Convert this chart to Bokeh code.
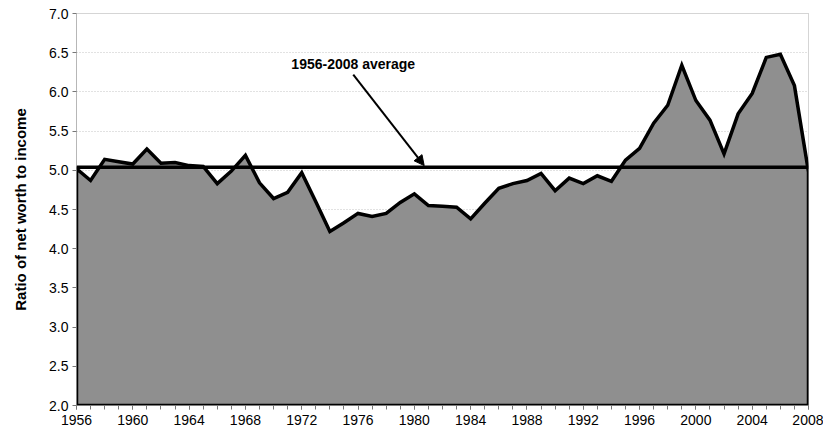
from bokeh.plotting import figure
from bokeh.models import FixedTicker, Arrow, NormalHead, Label, Range1d, CustomJSTickFormatter
from bokeh.embed import file_html
from bokeh.resources import INLINE

years = list(range(1956, 2009))
ratio = [5.02, 4.87, 5.14, 5.11, 5.08, 5.27, 5.09, 5.10, 5.06, 5.05,
         4.83, 4.99, 5.19, 4.84, 4.64, 4.72, 4.97, 4.60, 4.22, 4.33,
         4.45, 4.41, 4.45, 4.59, 4.70, 4.55, 4.54, 4.53, 4.38, 4.58,
         4.77, 4.83, 4.87, 4.96, 4.74, 4.90, 4.83, 4.93, 4.86, 5.13,
         5.28, 5.60, 5.83, 6.34, 5.89, 5.64, 5.21, 5.72, 5.98, 6.44,
         6.48, 6.08, 4.98]
average = 5.04
avg_label = "1956-2008 average"
y_label = "Ratio of net worth to income"
y_ticks = [2.0, 2.5, 3.0, 3.5, 4.0, 4.5, 5.0, 5.5, 6.0, 6.5, 7.0]
x_ticks = list(range(1956, 2009, 4))
y_min, y_max = 2.0, 7.0

FONT = "Liberation Sans"

p = figure(width=823, height=437, output_backend="svg", toolbar_location=None,
           x_range=Range1d(years[0], years[-1]), y_range=Range1d(y_min, y_max),
           min_border_left=76, min_border_right=15, min_border_top=13,
           min_border_bottom=32)
p.background_fill_color = "white"
p.border_fill_color = "white"
p.outline_line_color = "#aaaaaa"
p.outline_line_dash = "1 1"
p.outline_line_width = 1

# grid
p.xgrid.visible = False
p.ygrid.grid_line_color = "#c4c4c4"
p.ygrid.grid_line_dash = "1 2"
p.ygrid.grid_line_width = 1

# axes
p.yaxis.ticker = FixedTicker(ticks=y_ticks)
p.yaxis.formatter = CustomJSTickFormatter(code="return tick.toFixed(1);")
p.xaxis.ticker = FixedTicker(ticks=x_ticks, minor_ticks=years)
for ax in (p.xaxis, p.yaxis):
    ax.axis_line_color = "#999999"
    ax.axis_line_dash = "1 1"
    ax.major_tick_line_color = "#777777"
    ax.minor_tick_line_color = "#777777"
    ax.major_tick_in = 0
    ax.major_tick_out = 4
    ax.minor_tick_in = 0
    ax.minor_tick_out = 4
    ax.major_label_text_font = FONT
    ax.major_label_text_font_size = "14px"
    ax.major_label_text_color = "black"
p.yaxis.minor_tick_line_color = None
p.yaxis.major_label_standoff = 4
p.xaxis.major_label_standoff = 5
p.yaxis.axis_label = y_label
p.yaxis.axis_label_text_font = FONT
p.yaxis.axis_label_text_font_size = "15px"
p.yaxis.axis_label_text_font_style = "bold"
p.yaxis.axis_label_text_color = "black"
p.yaxis.axis_label_standoff = 17

# area with outline (floor at axis minimum)
xs = [years[0]] + years + [years[-1]]
ys = [y_min] + ratio + [y_min]
p.patch(xs, ys, fill_color="#8f8f8f", line_color="black", line_width=3.5,
        line_join="miter")

# average line
p.line([years[0], years[-1]], [average, average], line_color="black", line_width=3.5)

# annotation
p.add_layout(Label(x=1975.66, y=6.36, text=avg_label, text_font=FONT,
                   text_font_size="14px", text_font_style="bold",
                   text_align="center", text_baseline="middle", text_color="black"))
p.add_layout(Arrow(end=NormalHead(size=10, fill_color="black", line_color="black"),
                   x_start=1975.66, y_start=6.22, x_end=1980.7, y_end=average + 0.02,
                   line_color="black", line_width=2))

open("out.html", "w").write(file_html(p, INLINE))
